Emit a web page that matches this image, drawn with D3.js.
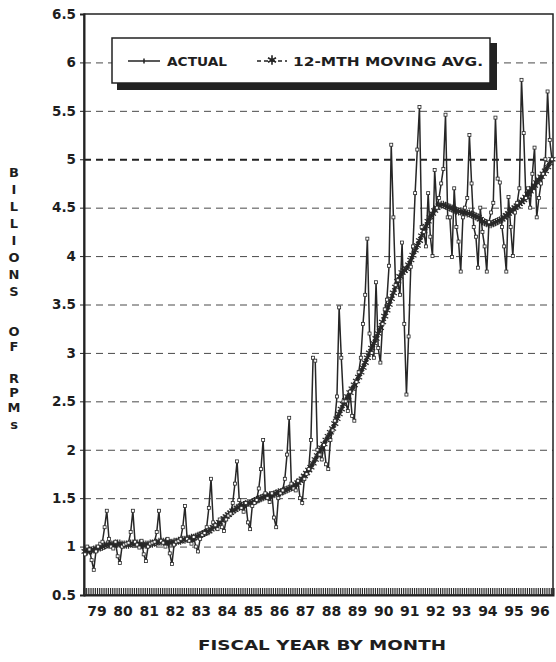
<!DOCTYPE html>
<html>
<head>
  <meta charset="UTF-8">
  <style>
    body { margin: 0; background: #fff; }
    svg { display: block; }
    text { font-family: "DejaVu Sans", sans-serif; font-weight: bold; fill: #1e1e1e; }
    .grid line { stroke: #4a4a4a; stroke-dasharray: 7,5; stroke-width: 1; }
    .grid .domain { display: none; }
  </style>
</head>
<body>
<svg id="chart"></svg>
<script src="https://d3js.org/d3.v7.min.js"></script>
<script>

// fiscal year labels on the x axis
const fiscalYears = ["79","80","81","82","83","84","85","86","87","88","89","90","91","92","93","94","95","96"];

// y axis ticks (billions of RPMs)
const yTicks = [0.5, 1, 1.5, 2, 2.5, 3, 3.5, 4, 4.5, 5, 5.5, 6, 6.5];
const yTickLabels = ["0.5","1","1.5","2","2.5","3","3.5","4","4.5","5","5.5","6","6.5"];
const gridLevels = [1, 1.5, 2, 2.5, 3, 3.5, 4, 4.5, 5, 5.5, 6];

// monthly actual RPMs, Oct..Sep of each fiscal year
const actual = [
  0.92,1.00,0.97,0.86,0.76,0.95,1.00,1.03,1.05,1.20,1.37,1.08, // 79
  1.00,0.98,1.05,0.90,0.83,1.00,1.02,1.03,1.04,1.15,1.37,1.05, // 80
  1.02,0.99,1.06,0.92,0.85,1.00,1.03,1.04,1.05,1.15,1.37,1.06, // 81
  1.04,1.00,1.08,0.93,0.82,1.02,1.05,1.06,1.08,1.20,1.42,1.08, // 82
  1.06,1.03,1.10,1.00,0.95,1.08,1.12,1.14,1.20,1.40,1.70,1.25, // 83
  1.22,1.18,1.28,1.20,1.16,1.28,1.32,1.34,1.45,1.65,1.88,1.48, // 84
  1.40,1.36,1.45,1.25,1.18,1.42,1.45,1.48,1.60,1.80,2.10,1.55, // 85
  1.50,1.46,1.55,1.30,1.20,1.50,1.55,1.58,1.70,1.95,2.33,1.65, // 86
  1.60,1.58,1.68,1.50,1.45,1.70,1.75,1.80,2.10,2.95,2.92,2.00, // 87
  1.95,1.90,2.05,1.85,1.80,2.10,2.20,2.30,2.55,3.47,2.95,2.50, // 88
  2.50,2.40,2.60,2.35,2.30,2.70,2.80,2.95,3.30,3.60,4.18,3.20, // 89
  3.00,2.95,3.73,3.05,2.90,3.30,3.45,3.55,3.90,5.15,4.40,3.70, // 90
  3.75,3.60,4.14,3.30,2.57,3.17,3.89,4.10,4.65,5.10,5.54,4.30, // 91
  4.25,4.10,4.65,4.20,4.00,4.89,4.50,4.60,4.75,4.90,5.46,4.40, // 92
  4.40,3.99,4.70,4.30,4.15,3.84,4.40,4.50,4.60,5.25,4.75,4.30, // 93
  4.20,3.88,4.50,4.25,4.10,3.84,4.35,4.45,4.55,5.43,4.80,4.76, // 94
  4.30,4.10,3.84,4.61,4.30,4.00,4.45,4.55,4.70,5.82,5.27,4.60, // 95
  4.70,4.50,4.85,5.12,4.40,4.60,4.75,4.85,5.00,5.70,5.20,5.00  // 96
];

// 12-month moving average
const movingAvg = [
  0.95,0.95,0.96,0.96,0.97,0.98,0.98,0.99,1.00,1.01,1.02,1.02, // 79
  1.02,1.02,1.03,1.03,1.03,1.02,1.02,1.02,1.02,1.03,1.03,1.03, // 80
  1.03,1.03,1.02,1.02,1.02,1.02,1.03,1.03,1.04,1.04,1.05,1.05, // 81
  1.05,1.05,1.05,1.04,1.04,1.05,1.05,1.06,1.06,1.07,1.07,1.08, // 82
  1.08,1.09,1.09,1.10,1.11,1.12,1.13,1.14,1.15,1.16,1.18,1.20, // 83
  1.21,1.23,1.25,1.27,1.29,1.31,1.33,1.35,1.37,1.38,1.40,1.41, // 84
  1.42,1.43,1.44,1.45,1.45,1.46,1.47,1.48,1.49,1.50,1.51,1.52, // 85
  1.52,1.53,1.53,1.54,1.55,1.56,1.56,1.57,1.58,1.59,1.60,1.61, // 86
  1.62,1.64,1.66,1.68,1.70,1.73,1.76,1.79,1.82,1.86,1.90,1.94, // 87
  1.98,2.02,2.06,2.10,2.14,2.18,2.22,2.27,2.32,2.37,2.42,2.47, // 88
  2.51,2.55,2.59,2.63,2.67,2.71,2.75,2.80,2.85,2.90,2.95,3.00, // 89
  3.05,3.10,3.15,3.20,3.26,3.32,3.38,3.44,3.50,3.56,3.62,3.68, // 90
  3.74,3.79,3.83,3.85,3.87,3.91,3.96,4.01,4.06,4.11,4.16,4.21, // 91
  4.26,4.31,4.36,4.40,4.44,4.47,4.50,4.52,4.53,4.53,4.52,4.51, // 92
  4.50,4.49,4.48,4.47,4.46,4.46,4.45,4.45,4.44,4.44,4.43,4.42, // 93
  4.41,4.40,4.38,4.36,4.35,4.34,4.33,4.33,4.34,4.35,4.36,4.37, // 94
  4.38,4.40,4.42,4.44,4.46,4.48,4.50,4.52,4.54,4.56,4.58,4.61, // 95
  4.64,4.67,4.70,4.73,4.76,4.79,4.82,4.85,4.88,4.92,4.96,5.00  // 96
];

const width = 556, height = 662;
const plotLeft = 84, plotRight = 553, plotTop = 14, plotBottom = 595;

let svg = d3.select("#chart")
    .attr("width", width)
    .attr("height", height);

let x = d3.scaleLinear().domain([0, actual.length]).range([plotLeft, plotRight]);
let xYear = d3.scaleBand().domain(fiscalYears).range([plotLeft, plotRight]);
let y = d3.scaleLinear().domain([0.5, 6.5]).range([plotBottom, plotTop]);

// dashed grid
svg.append("g")
    .attr("class", "grid")
    .attr("transform", `translate(${plotLeft},0)`)
    .call(d3.axisLeft(y).tickValues(gridLevels).tickSize(-(plotRight - plotLeft)).tickFormat(""))
    .selectAll("line")
    .filter(d => d === 5)
    .style("stroke-width", 2)
    .style("stroke", "#222");

// frame
svg.append("rect")
    .attr("x", plotLeft).attr("y", plotTop)
    .attr("width", plotRight - plotLeft).attr("height", plotBottom - plotTop)
    .attr("fill", "none").attr("stroke", "#222").attr("stroke-width", 1.5);

// y tick labels
let yAxis = svg.append("g")
    .attr("transform", `translate(${plotLeft},0)`)
    .call(d3.axisLeft(y).tickValues(yTicks).tickSize(4).tickPadding(4)
        .tickFormat((d, i) => yTickLabels[i]));
yAxis.select(".domain").attr("stroke", "#222").attr("stroke-width", 2);
yAxis.selectAll("line").attr("stroke", "#222");
yAxis.selectAll("text").style("font-size", "13.5px").attr("fill", "#1e1e1e");

// monthly tick band along the bottom
let xAxis = svg.append("g")
    .attr("transform", `translate(0,${plotBottom})`)
    .call(d3.axisBottom(x).tickValues(d3.range(0, actual.length + 1)).tickSize(-7).tickFormat(""));
xAxis.select(".domain").attr("stroke", "#222").attr("stroke-width", 2);
xAxis.selectAll("line").attr("stroke", "#2a2a2a").attr("stroke-width", 1.2);

// fiscal year labels
let yearAxis = svg.append("g")
    .attr("transform", `translate(0,${plotBottom + 5})`)
    .call(d3.axisBottom(xYear).tickSize(0).tickPadding(6));
yearAxis.select(".domain").remove();
yearAxis.selectAll("text").style("font-size", "14px").attr("fill", "#1e1e1e");

// axis titles
svg.append("text")
    .attr("x", 198).attr("y", 650)
    .attr("textLength", 248).attr("lengthAdjust", "spacingAndGlyphs")
    .style("font-size", "14px")
    .text("FISCAL YEAR BY MONTH");

let yLetters = ["B","I","L","L","I","O","N","S","O","F","R","P","M","s"];
let yLetterPos = [172,189,206,223,240,257,274,291,331,346,378,392,407,424];
svg.append("g").selectAll("text")
    .data(yLetters)
    .enter()
    .append("text")
    .attr("x", 14)
    .attr("y", (d, i) => yLetterPos[i] + 5)
    .attr("text-anchor", "middle")
    .style("font-size", "13px")
    .text(d => d);

// moving average
let avgLine = d3.line().x((d, i) => x(i + 0.5)).y(d => y(d));
svg.append("path")
    .datum(movingAvg)
    .attr("d", avgLine)
    .attr("fill", "none")
    .attr("stroke", "#222")
    .attr("stroke-width", 3);

let star = d3.symbol(d3.symbolAsterisk, 46);
svg.append("g").selectAll("path")
    .data(movingAvg)
    .enter()
    .append("path")
    .attr("d", star)
    .attr("transform", (d, i) => `translate(${x(i + 0.5)},${y(d)})`)
    .attr("fill", "none")
    .attr("stroke", "#2a2a2a")
    .attr("stroke-width", 1.2);

// actual
let actLine = d3.line().x((d, i) => x(i + 0.5)).y(d => y(d));
svg.append("path")
    .datum(actual)
    .attr("d", actLine)
    .attr("fill", "none")
    .attr("stroke", "#262626")
    .attr("stroke-width", 1.5);

svg.append("g").selectAll("rect")
    .data(actual)
    .enter()
    .append("rect")
    .attr("x", (d, i) => x(i + 0.5) - 1.5)
    .attr("y", d => y(d) - 1.5)
    .attr("width", 3).attr("height", 3)
    .attr("fill", "#fff")
    .attr("stroke", "#262626")
    .attr("stroke-width", 0.8);

// legend
let legend = svg.append("g");
legend.append("rect")
    .attr("x", 117).attr("y", 43).attr("width", 380).attr("height", 47)
    .attr("fill", "#222");
legend.append("rect")
    .attr("x", 112).attr("y", 38).attr("width", 378).attr("height", 45)
    .attr("fill", "#fff").attr("stroke", "#222").attr("stroke-width", 1.5);

legend.append("line")
    .attr("x1", 128).attr("x2", 160).attr("y1", 61).attr("y2", 61)
    .attr("stroke", "#222").attr("stroke-width", 1.5);
legend.append("line")
    .attr("x1", 144).attr("x2", 144).attr("y1", 58.5).attr("y2", 63.5)
    .attr("stroke", "#222").attr("stroke-width", 1.5);
legend.append("text")
    .attr("x", 167).attr("y", 66)
    .attr("textLength", 60).attr("lengthAdjust", "spacingAndGlyphs")
    .style("font-size", "12px")
    .text("ACTUAL");

legend.append("line")
    .attr("x1", 257).attr("x2", 287).attr("y1", 61).attr("y2", 61)
    .attr("stroke", "#222").attr("stroke-width", 1.5).attr("stroke-dasharray", "4,3");
legend.append("path")
    .attr("d", d3.symbol(d3.symbolAsterisk, 60))
    .attr("transform", "translate(272,60)")
    .attr("fill", "none").attr("stroke", "#222").attr("stroke-width", 1.6);
legend.append("text")
    .attr("x", 293).attr("y", 66)
    .attr("textLength", 190).attr("lengthAdjust", "spacingAndGlyphs")
    .style("font-size", "12px")
    .text("12-MTH MOVING AVG.");

</script>
</body>
</html>
